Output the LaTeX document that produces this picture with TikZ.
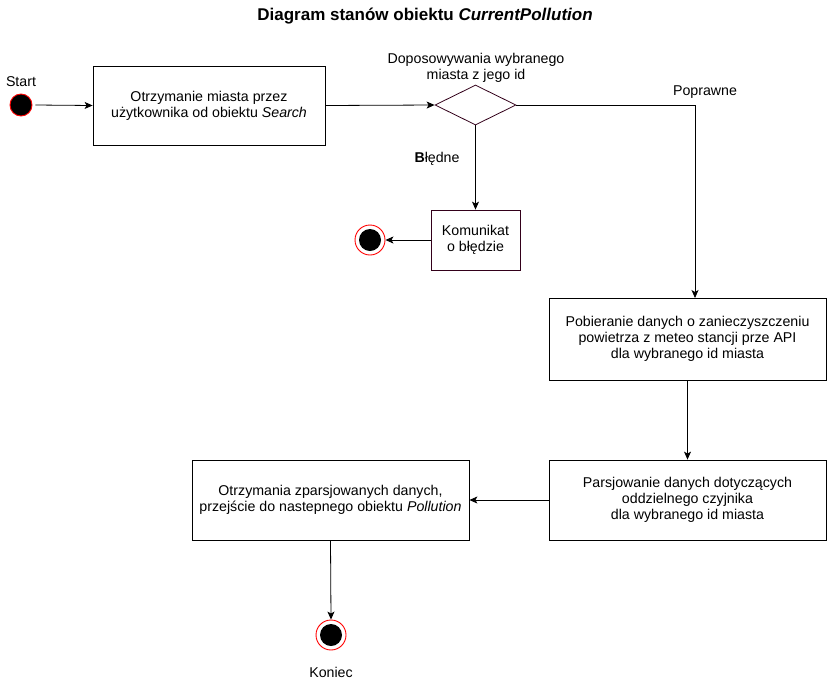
\documentclass[tikz,border=0pt]{standalone}
\usepackage{fontspec}
\setmainfont{Liberation Sans}
\usetikzlibrary{arrows.meta,shapes.geometric}
\definecolor{maroon}{HTML}{33001A}
\tikzset{
  every node/.style={font=\fontsize{14.2}{16}\selectfont, align=center, inner sep=0pt},
  mbox/.style={draw=maroon, line width=0.8pt, rectangle, minimum width=89pt, minimum height=60pt},
  arr/.style={line width=0.8pt, -{Stealth[length=8pt,width=7pt,inset=2pt]}},
  startc/.style={circle, fill=black, draw=red, line width=0.9pt, minimum size=22pt},
  endo/.style={circle, draw=red, fill=white, line width=0.9pt, minimum size=30pt},
  endi/.style={circle, fill=black, minimum size=22pt},
}
\begin{document}
\begin{tikzpicture}[x=1pt,y=-1pt]
\useasboundingbox (0,0) rectangle (827,681);
\node[font=\fontsize{17}{20}\selectfont\bfseries] (title) at (425,16) {Diagram stanów obiektu \textit{CurrentPollution}};
% start
\node[startc] (start) at (21,105) {};
\node (startl) at (21,81.5) {Start};
% box1
\node[draw, line width=0.8pt, minimum width=232pt, minimum height=79pt] (b1) at (209,105.5) {Otrzymanie miasta przez\\użytkownika od obiektu \textit{Search}};
\draw[arr] (start.east) ++(3,0) coordinate (s1) -- (b1.west);
% diamond
\node[draw=maroon, line width=0.8pt, diamond, minimum width=81pt, minimum height=40pt, aspect=2, inner sep=0pt] (d) at (475.5,105) {};
\node (dl) at (476,67.5) {Doposowywania wybranego\\miasta z jego id};
\draw[arr] (b1.east) -- (d.west);
% box2
\node[mbox] (b2) at (475.5,240) {Komunikat\\ o błędzie};
\draw[arr] (d.south) -- (b2.north);
\node (bl) at (437,159) {\textbf{B}łędne};
% end1
\node[endo] (e1) at (370,240) {};
\node[endi] at (e1) {};
\draw[arr] (b2.west) -- (e1.east);
% box3
\node[draw, line width=0.8pt, minimum width=277pt, minimum height=82pt] (b3) at (687.5,339) {Pobieranie danych o zanieczyszczeniu\\powietrza z meteo stancji prze API\\dla wybranego id miasta};
\draw[arr] (d.east) -| (695,298) coordinate (b3t);
\node (pl) at (705,92.5) {Poprawne};
% box4
\node[draw, line width=0.8pt, minimum width=277pt, minimum height=80pt] (b4) at (687.5,500) {Parsjowanie danych dotyczących\\oddzielnego czyjnika\\dla wybranego id miasta};
\draw[arr] (b3.south) -- (b4.north);
% box5
\node[draw, line width=0.8pt, minimum width=277pt, minimum height=80pt] (b5) at (330.5,500) {Otrzymania zparsjowanych danych,\\przejście do nastepnego obiektu \textit{Pollution}};
\draw[arr] (b4.west) -- (b5.east);
% end2
\node[endo] (e2) at (331,635) {};
\node[endi] at (e2) {};
\draw[arr] (b5.south) -- (e2.north);
\node (kl) at (331,672) {Koniec};
\end{tikzpicture}
\end{document}
